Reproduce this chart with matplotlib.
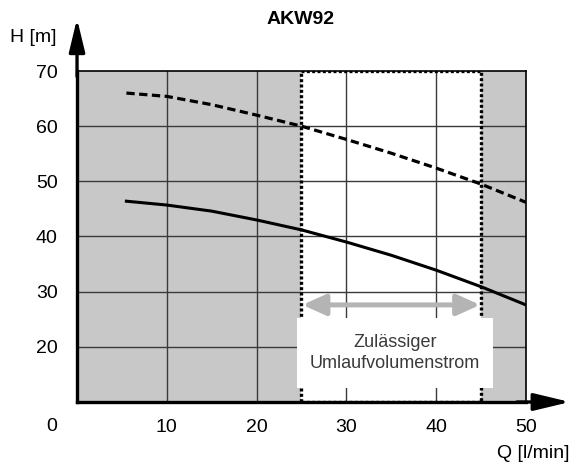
import numpy as np
import matplotlib.pyplot as plt
from matplotlib.patches import Rectangle

# pump curves read at flow rates (l/min)
q_max = [5.5, 10, 15, 20, 25, 30, 35, 40, 45, 50]
h_max = [66.0, 65.4, 63.9, 62.0, 60.0, 57.6, 55.1, 52.4, 49.5, 46.2]
q_min = [5.5, 10, 15, 20, 25, 30, 35, 40, 45, 50]
h_min = [46.4, 45.7, 44.6, 43.0, 41.2, 39.0, 36.6, 33.9, 30.9, 27.6]

allowed = (25, 45)
x_ticks = [10, 20, 30, 40, 50]
y_ticks = [20, 30, 40, 50, 60, 70]

plt.rcParams['font.family'] = ['Liberation Sans', 'DejaVu Sans']

fig = plt.figure(figsize=(5.77, 4.65), dpi=100)
ax = fig.add_axes([0.1335, 0.1355, 0.778, 0.7118])
ax.set_xlim(0, 50)
ax.set_ylim(10, 70)

# grey outside the permitted flow range
gray = '#c8c8c8'
ax.axvspan(0, allowed[0], color=gray, zorder=0, lw=0)
ax.axvspan(allowed[1], 50, color=gray, zorder=0, lw=0)

for x in x_ticks[:-1]:
    ax.axvline(x, color='#3a3a3a', lw=1, zorder=1)
for y in y_ticks[:-1]:
    ax.axhline(y, color='#3a3a3a', lw=1, zorder=1)

ax.plot(q_max, h_max, color='black', lw=2.3, ls=(0, (2.6, 1.4)), zorder=4)
ax.plot(q_min, h_min, color='black', lw=2.2, zorder=4)

ax.add_patch(Rectangle((allowed[0], 10), allowed[1] - allowed[0], 60, fill=False,
                       ec='black', lw=2.4, ls=(0, (0.9, 0.7)), zorder=3))

ax.annotate('', xy=(allowed[0] + 0.1, 27.6), xytext=(allowed[1] - 0.1, 27.6),
            arrowprops=dict(arrowstyle='<|-|>,head_length=1.0,head_width=0.45',
                            color='#b4b4b4', lw=3.6, mutation_scale=14,
                            shrinkA=0, shrinkB=0), zorder=5)

# white label panel over the lower part of the window
ax.add_patch(Rectangle((24.55, 12.5), 21.8, 12.8, fc='white', ec='none', zorder=6))
ax.text(35.4, 18.9, 'Zulässiger\nUmlaufvolumenstrom', ha='center', va='center',
        fontsize=13, color='#3a3a3a', linespacing=1.25, zorder=7)

for side in ['top', 'right']:
    ax.spines[side].set_linewidth(1.2)
for side in ['left', 'bottom']:
    ax.spines[side].set_linewidth(2.4)
    ax.spines[side].set_zorder(8)

ax.set_xticks(x_ticks)
ax.set_yticks(y_ticks)
ax.tick_params(length=0, labelsize=14, pad=12)
ax.tick_params(axis='y', pad=14)

# axis arrows
head = '-|>,head_length=1.0,head_width=0.24'
ax.annotate('', xy=(0, 79.5), xytext=(0, 69), annotation_clip=False,
            arrowprops=dict(arrowstyle=head, color='black', lw=2.4,
                            mutation_scale=20, shrinkA=0, shrinkB=0))
ax.annotate('', xy=(54.9, 10), xytext=(49, 10), annotation_clip=False,
            arrowprops=dict(arrowstyle=head, color='black', lw=2.4,
                            mutation_scale=22, shrinkA=0, shrinkB=0))

ax.text(-2.8, 5.6, '0', ha='center', va='center', fontsize=14)
fig.text(0.057, 0.92, 'H [m]', ha='center', va='center', fontsize=14)
fig.text(0.924, 0.024, 'Q [l/min]', ha='center', va='center', fontsize=14)
fig.text(0.52, 0.957, 'AKW92', ha='center', va='center', fontsize=14,
         fontweight='bold')

fig.savefig('out.png', dpi=100)
